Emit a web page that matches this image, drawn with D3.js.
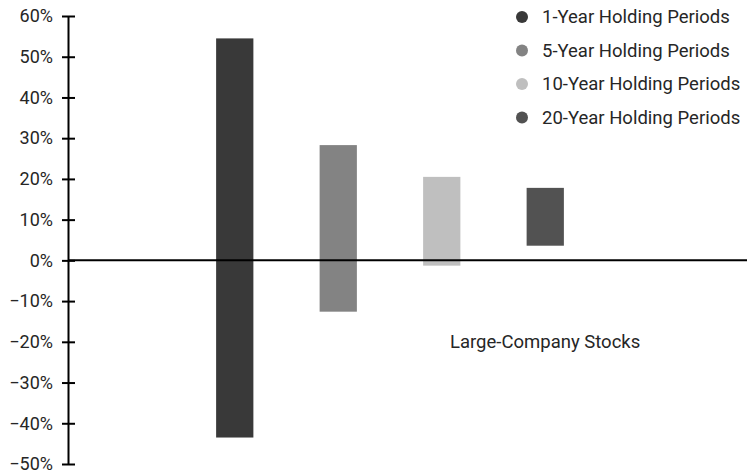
<!DOCTYPE html>
<html>
<head>
<meta charset="utf-8">
<script src="https://cdn.jsdelivr.net/npm/d3@7"></script>
<style>
  body { margin: 0; background: #fff; }
  text { font-family: Roboto, "Liberation Sans", Arial, sans-serif; fill: #262626; }
</style>
</head>
<body>
<svg id="chart" width="747" height="474"></svg>
<script>
(() => {

// data
const periods = ['1-Year Holding Periods', '5-Year Holding Periods', '10-Year Holding Periods', '20-Year Holding Periods'];
const highs = [54.5, 28.3, 20.5, 17.8];
const lows = [-43.5, -12.6, -1.3, 3.6];
const colors = ['#393939', '#838383', '#bfbfbf', '#525252'];
const y_ticks = [60, 50, 40, 30, 20, 10, 0, -10, -20, -30, -40, -50];
const series_label = 'Large-Company Stocks';

// chart parameters
const axis_x = 68;
const width = 747;

let svg = d3.select('#chart');

let y_scale = d3.scaleLinear()
    .domain([-50, 60])
    .range([464, 16]);

let x_scale = d3.scaleBand()
    .domain(periods)
    .range([183, 597])
    .paddingInner(0.64)
    .paddingOuter(0.32);

let color = d3.scaleOrdinal()
    .domain(periods)
    .range(colors);

// bars
let rows = periods.map((p, i) => ({period: p, high: highs[i], low: lows[i]}));

svg.append('g')
    .selectAll('rect')
    .data(rows)
    .enter()
    .append('rect')
    .attr('x', d => x_scale(d.period))
    .attr('y', d => y_scale(d.high))
    .attr('width', x_scale.bandwidth())
    .attr('height', d => y_scale(d.low) - y_scale(d.high))
    .attr('fill', d => color(d.period));

// zero line
svg.append('line')
    .attr('x1', axis_x)
    .attr('x2', width)
    .attr('y1', y_scale(0))
    .attr('y2', y_scale(0))
    .attr('stroke', '#000')
    .attr('stroke-width', 2);

// y axis
let y_axis = d3.axisLeft(y_scale)
    .tickValues(y_ticks)
    .tickFormat(d => (d < 0 ? '\u2212' + Math.abs(d) : d) + '%')
    .tickSizeInner(6)
    .tickSizeOuter(0)
    .tickPadding(9);

let gy = svg.append('g')
    .attr('transform', `translate(${axis_x}, 0)`)
    .call(y_axis);

gy.select('.domain').attr('stroke', '#000').attr('stroke-width', 2);
gy.selectAll('.tick line').attr('x1', 7).attr('stroke', '#000').attr('stroke-width', 2);
gy.selectAll('.tick text')
    .style('font-size', '18px')
    .style('font-family', 'Roboto, "Liberation Sans", Arial, sans-serif')
    .attr('fill', '#262626');

// legend
let legend = svg.append('g')
    .selectAll('g')
    .data(periods)
    .enter()
    .append('g')
    .attr('transform', (d, i) => `translate(522, ${17 + i * 33.5})`);

legend.append('circle')
    .attr('r', 6)
    .attr('fill', d => color(d));

legend.append('text')
    .attr('x', 20)
    .attr('dy', '0.35em')
    .style('font-size', '18.5px')
    .text(d => d);

// series label
svg.append('text')
    .attr('x', 450)
    .attr('y', 348)
    .style('font-size', '18.5px')
    .text(series_label);

})();
</script>
</body>
</html>
